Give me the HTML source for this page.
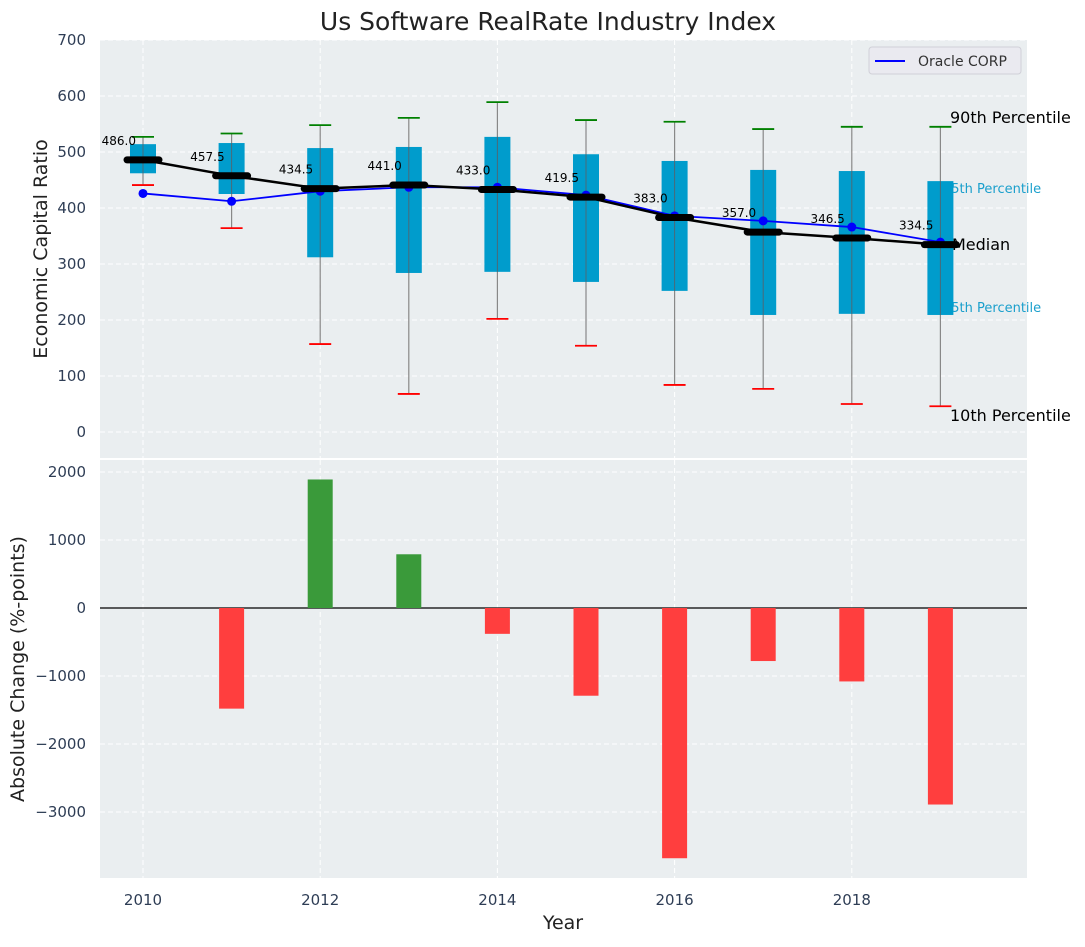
<!DOCTYPE html>
<html><head><meta charset="utf-8"><style>
body{margin:0;background:#fff;font-family:"Liberation Sans","DejaVu Sans",sans-serif}
svg text{font-family:"DejaVu Sans","Liberation Sans",sans-serif}
</style></head><body>
<svg id="c" width="1085" height="942" xmlns="http://www.w3.org/2000/svg"></svg>
<script>
const years=[2010,2011,2012,2013,2014,2015,2016,2017,2018,2019];
const medians=[486.0,457.5,434.5,441.0,433.0,419.5,383.0,357.0,346.5,334.5];
const q1=[462,425,312,284,286,268,252,209,211,209];
const q3=[514,516,507,509,527,496,484,468,466,448];
const p10=[441,364,157,68,202,154,84,77,50,46];
const p90=[527,533,548,561,589,557,554,541,545,545];
const oracle=[426,412,430,437,437,423,386,377,366,339];
const changes=[0,-1480,1890,790,-380,-1290,-3680,-780,-1080,-2890];
const topTicks=[0,100,200,300,400,500,600,700];
const botTicks=[2000,1000,0,-1000,-2000,-3000];
const xTicks=[2010,2012,2014,2016,2018];

const NS="http://www.w3.org/2000/svg",svg=document.getElementById('c');
function el(t,a,p){const e=document.createElementNS(NS,t);for(const k in a)e.setAttribute(k,a[k]);(p||svg).appendChild(e);return e;}
const L=100,R=1027,T1=40,B1=458,T2=460,B2=878;
const x=v=>143+(v-2010)*88.6;
const y1=v=>432-v*0.56;
const y2=v=>608-v*0.068;

let bg=el('rect',{x:L,y:T1,width:R-L,height:B1-T1,fill:'#eaeef0'});

let bg2=el('rect',{x:L,y:T2,width:R-L,height:B2-T2,fill:'#eaeef0'});


topTicks.forEach(t=>{el('line',{x1:L,x2:R,y1:y1(t),y2:y1(t),stroke:'#fff','stroke-dasharray':'5,3','stroke-width':1});
 const tx=el('text',{x:86,y:y1(t)+5,'text-anchor':'end','font-size':15,fill:'#2e3d55'});tx.textContent=t;
 });
botTicks.forEach(t=>{el('line',{x1:L,x2:R,y1:y2(t),y2:y2(t),stroke:'#fff','stroke-dasharray':'5,3','stroke-width':1});
 const tx=el('text',{x:86,y:y2(t)+5,'text-anchor':'end','font-size':15,fill:'#2e3d55'});tx.textContent=(t<0?'\u2212'+(-t):t);
 });
xTicks.forEach(t=>{el('line',{x1:x(t),x2:x(t),y1:T1,y2:B1,stroke:'#fff','stroke-dasharray':'5,3'});
 el('line',{x1:x(t),x2:x(t),y1:T2,y2:B2,stroke:'#fff','stroke-dasharray':'5,3'});
 const tx=el('text',{x:x(t),y:905,'text-anchor':'middle','font-size':15,fill:'#2e3d55'});tx.textContent=t;
 });

const ann=[['90th Percentile',123,16,'#000'],['75th Percentile',193,13,'#1a9fcc'],['Median',250,16,'#000'],['25th Percentile',312,13,'#1a9fcc'],['10th Percentile',421,16,'#000']];
ann.forEach(a=>{const t=el('text',{x:a[0]=='Median'?952:(a[2]==13?943:950),y:a[1],'font-size':a[2],fill:a[3]});t.textContent=a[0];
 });

years.forEach((yr,i)=>{const cx=x(yr);
 const w=el('line',{x1:cx,x2:cx,y1:y1(p90[i]),y2:y1(p10[i]),stroke:'#888','stroke-width':1.2});
 
 const b=el('rect',{x:cx-13,y:y1(q3[i]),width:26,height:y1(q1[i])-y1(q3[i]),fill:'#009ccc'});
 
 el('line',{x1:cx,x2:cx,y1:y1(q3[i]),y2:y1(q1[i]),stroke:'#4a6a78','stroke-width':1});
 const g=el('line',{x1:cx-11,x2:cx+11,y1:y1(p90[i]),y2:y1(p90[i]),stroke:'green','stroke-width':1.8});
 
 const r=el('line',{x1:cx-11,x2:cx+11,y1:y1(p10[i]),y2:y1(p10[i]),stroke:'red','stroke-width':1.8});
 
});
const ol=el('polyline',{points:years.map((yr,i)=>x(yr)+','+y1(oracle[i])).join(' '),fill:'none',stroke:'blue','stroke-width':1.8});

years.forEach((yr,i)=>{const d=el('circle',{cx:x(yr),cy:y1(oracle[i]),r:4.5,fill:'blue'});
 });
const ml=el('polyline',{points:years.map((yr,i)=>x(yr)+','+y1(medians[i])).join(' '),fill:'none',stroke:'#000','stroke-width':2.5});

years.forEach((yr,i)=>{const cx=x(yr),cy=y1(medians[i]);
 const m=el('line',{x1:cx-16,x2:cx+16,y1:cy,y2:cy,stroke:'#000','stroke-width':7,'stroke-linecap':'round'});
 
 const t=el('text',{x:cx-7,y:cy-15,'text-anchor':'end','font-size':12,fill:'#000'});t.textContent=medians[i].toFixed(1);
 });

el('line',{x1:L,x2:R,y1:y2(0),y2:y2(0),stroke:'#000','stroke-width':1.2});
years.forEach((yr,i)=>{const v=changes[i];if(!v)return;
 const b=el('rect',{x:x(yr)-12.5,y:Math.min(y2(v),y2(0)),width:25,height:Math.abs(y2(v)-y2(0)),fill:v>0?'#3a9a3a':'#ff3e3e'});
 });

const lg=el('g',{});
el('rect',{x:869,y:47,width:152,height:27,rx:3,fill:'#eaeaf0',stroke:'#d0d0d8'},lg);
el('line',{x1:875,x2:905,y1:61,y2:61,stroke:'blue','stroke-width':2},lg);
const lt=el('text',{x:918,y:66,'font-size':14,fill:'#333'},lg);lt.textContent='Oracle CORP';

const tt=el('text',{x:548,y:30,'text-anchor':'middle','font-size':25,fill:'#222'});tt.textContent='Us Software RealRate Industry Index';

const yt=el('text',{x:47,y:249,'text-anchor':'middle','font-size':19,fill:'#222',transform:'rotate(-90 47 249)'});yt.textContent='Economic Capital Ratio';

const yt2=el('text',{x:24,y:669,'text-anchor':'middle','font-size':19,fill:'#222',transform:'rotate(-90 24 669)'});yt2.textContent='Absolute Change (%-points)';

const xt=el('text',{x:563,y:929,'text-anchor':'middle','font-size':19,fill:'#222'});xt.textContent='Year';

</script>
</body></html>
